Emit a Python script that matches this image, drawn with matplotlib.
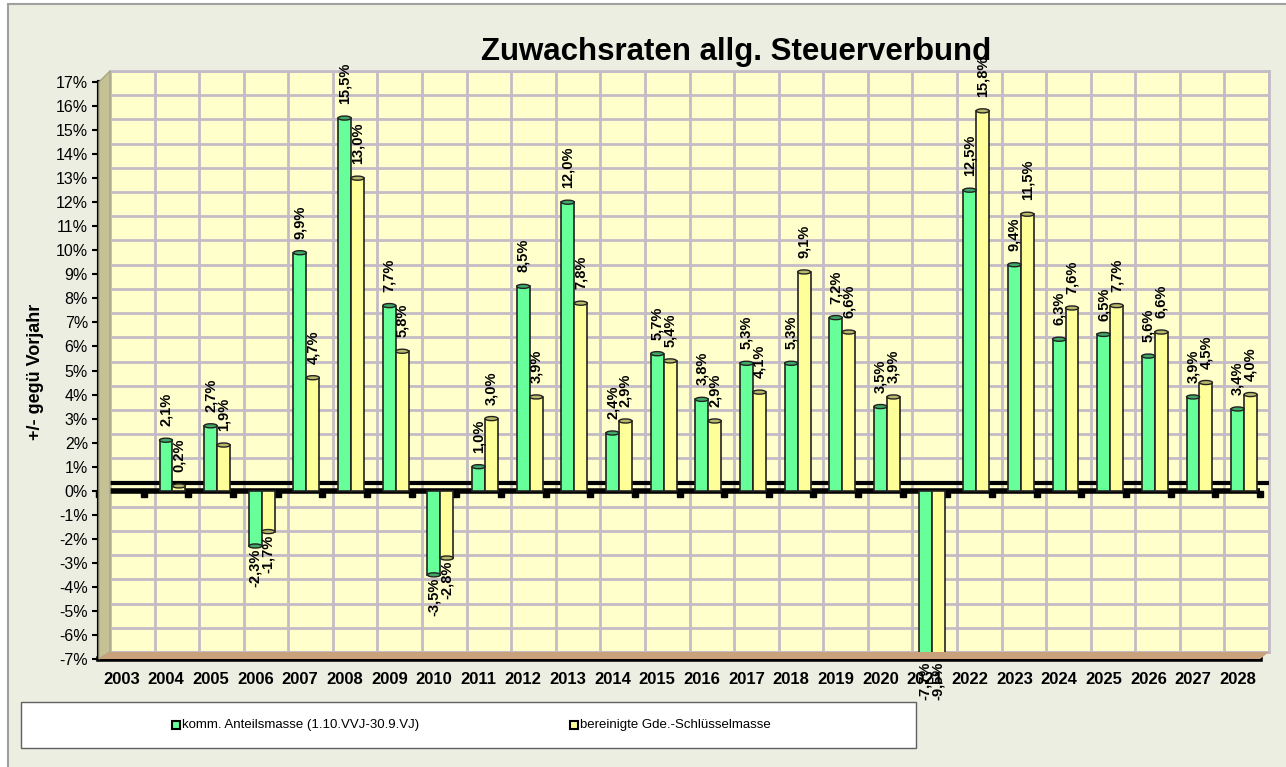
import numpy as np
import matplotlib

matplotlib.use("Agg")
import matplotlib.pyplot as plt
from matplotlib.patches import Ellipse, Polygon, Rectangle

plt.rcParams["font.family"] = ["Liberation Sans", "DejaVu Sans"]

# --- data -------------------------------------------------------------
years = [str(y) for y in range(2003, 2029)]
anteilsmasse = [np.nan, 2.1, 2.7, -2.3, 9.9, 15.5, 7.7, -3.5, 1.0, 8.5, 12.0, 2.4, 5.7,
                3.8, 5.3, 5.3, 7.2, 3.5, -7.7, 12.5, 9.4, 6.3, 6.5, 5.6, 3.9, 3.4]
schluesselmasse = [np.nan, 0.2, 1.9, -1.7, 4.7, 13.0, 5.8, -2.8, 3.0, 3.9, 7.8, 2.9, 5.4,
                   2.9, 4.1, 9.1, 6.6, 3.9, -9.5, 15.8, 11.5, 7.6, 7.7, 6.6, 4.5, 4.0]
series_names = ["komm. Anteilsmasse (1.10.VVJ-30.9.VJ)", "bereinigte Gde.-Schlüsselmasse"]
y_ticks = list(range(-7, 18))

GREEN = "#66FF99"
GREEN_CAP = "#3FA866"
YELLOW = "#FFFF99"
YELLOW_CAP = "#B8B86A"
WALL = "#FFFFCC"
GRID = "#C3BCC6"
BG = "#ECEEE1"

W, H = 1286, 767
YMIN, YMAX = -7, 17


def fx(x):
    return x / W


def fy(y):
    return 1 - y / H


def box(x0, y0, x1, y1):
    return [fx(x0), fy(y1), fx(x1) - fx(x0), fy(y0) - fy(y1)]


fig = plt.figure(figsize=(W / 100, H / 100), dpi=100, facecolor="white")
fig.patches.append(Rectangle((fx(8), fy(770)), 1.1, fy(4) - fy(770), transform=fig.transFigure,
                             facecolor=BG, edgecolor="#A0A0A0", linewidth=1.5, zorder=-10))

# back wall with grid
axb = fig.add_axes(box(110, 71, 1269, 652))
axb.set_facecolor(WALL)
axb.set_xlim(-0.5, len(years) - 0.5)
axb.set_ylim(YMIN, YMAX)
axb.set_xticks(np.arange(len(years) + 1) - 0.5)
axb.set_yticks(y_ticks)
axb.grid(True, color=GRID, linewidth=2)
axb.tick_params(left=False, bottom=False, labelleft=False, labelbottom=False)
for sp in axb.spines.values():
    sp.set_color(GRID)
    sp.set_linewidth(2)
axb.axhline(0, color="black", linewidth=3, zorder=3)

# side wall and floor
fig.patches.append(Polygon([(fx(99), fy(82)), (fx(110), fy(71)), (fx(110), fy(652)), (fx(99), fy(659))],
                           closed=True, transform=fig.transFigure, facecolor="#C4C295",
                           edgecolor="#A8A680", linewidth=1, zorder=1))
fig.patches.append(Polygon([(fx(99), fy(659)), (fx(110), fy(652)), (fx(1269), fy(652)), (fx(1260), fy(659))],
                           closed=True, transform=fig.transFigure, facecolor="#C9A27C",
                           edgecolor="none", zorder=1))

# front axes with bars
ax = fig.add_axes(box(99, 82, 1260, 659))
ax.patch.set_alpha(0)
ax.set_xlim(-0.5, len(years) - 0.5)
ax.set_ylim(YMIN, YMAX)

x = np.arange(len(years))
bw = 0.29
offsets = [0.0, 0.29]
caps = [GREEN_CAP, YELLOW_CAP]
colors = [GREEN, YELLOW]

ax.axhline(0, color="black", linewidth=4, zorder=2)
ax.plot(np.arange(len(years) + 1) - 0.5, np.full(len(years) + 1, -0.15), "s", color="black",
        markersize=4, zorder=2, clip_on=False)

for vals, off, col, cap in zip([anteilsmasse, schluesselmasse], offsets, colors, caps):
    vals = np.array(vals, dtype=float)
    ax.bar(x + off, vals, width=bw, color=col, edgecolor="#222222", linewidth=1.2, zorder=4)
    for xi, v in zip(x + off, vals):
        if np.isnan(v):
            continue
        if v >= YMIN:
            ax.add_patch(Ellipse((xi, v), bw, 0.17, facecolor=cap, edgecolor="#222222",
                                 linewidth=1, zorder=5))
        label = f"{v:.1f}".replace(".", ",") + "%"
        if v >= 0:
            ax.annotate(label, (xi, v), xytext=(0, 10), textcoords="offset points", rotation=90,
                        ha="center", va="bottom", fontsize=10.5, fontweight="bold",
                        annotation_clip=False, zorder=6)
        else:
            ax.annotate(label, (xi, max(v, YMIN)), xytext=(0, -2), textcoords="offset points",
                        rotation=90, ha="center", va="top", fontsize=10.5, fontweight="bold",
                        annotation_clip=False, zorder=6)

ax.set_xticks(x)
ax.set_xticklabels(years, fontsize=12, fontweight="bold")
ax.tick_params(axis="x", length=0, pad=9)
ax.set_yticks(y_ticks)
ax.set_yticklabels([f"{t}%" for t in y_ticks], fontsize=11.5)
ax.tick_params(axis="y", length=5, width=1.5, pad=3)
for side in ["top", "right"]:
    ax.spines[side].set_visible(False)
ax.spines["left"].set_linewidth(3)
ax.spines["bottom"].set_linewidth(4)

# titles
fig.text(fx(736), fy(52), "Zuwachsraten allg. Steuerverbund", ha="center", va="center",
         fontsize=22.5, fontweight="bold")
fig.text(fx(35), fy(372), "+/- gegü Vorjahr", ha="center", va="center", rotation=90,
         fontsize=13, fontweight="bold")

# legend box
fig.patches.append(Rectangle((fx(21), fy(748)), fx(916) - fx(21), fy(702) - fy(748),
                             transform=fig.transFigure, facecolor="white", edgecolor="#606060",
                             linewidth=1, zorder=2))
for (mx, name, col) in zip([176, 574], series_names, colors):
    fig.patches.append(Rectangle((fx(mx - 4), fy(729)), fx(8), fy(721) - fy(729),
                                 transform=fig.transFigure, facecolor=col, edgecolor="black",
                                 linewidth=1.5, zorder=3))
    fig.text(fx(mx + 6), fy(725), name, ha="left", va="center", fontsize=9.5, zorder=3)

fig.savefig("out.png", dpi=100, facecolor="white")
